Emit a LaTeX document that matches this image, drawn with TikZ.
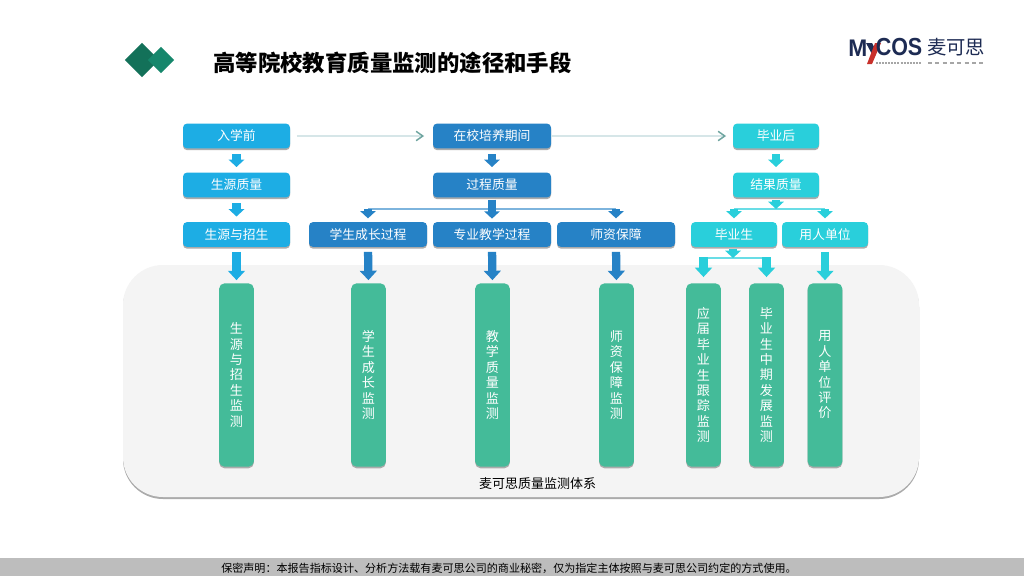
\documentclass[tikz,border=0pt]{standalone}
\usepackage{graphicx}
\usepackage{fontspec}
\setmainfont{Noto Sans CJK SC}
\newfontfamily\logofont{Liberation Sans}
\usetikzlibrary{arrows.meta,shadows,calc}
\definecolor{lblue}{HTML}{1DADE4}
\definecolor{mblue}{HTML}{2682C6}
\definecolor{cyanb}{HTML}{29CFDB}
\definecolor{greenb}{HTML}{44BB99}
\definecolor{panelc}{HTML}{F4F4F4}
\definecolor{shadowc}{HTML}{ABABAB}
\definecolor{footc}{HTML}{BDBDBD}
\definecolor{flowl}{HTML}{D6E6E8}
\definecolor{flowt}{HTML}{6FA5A0}
\definecolor{navy}{HTML}{1D2B53}
\definecolor{logored}{HTML}{C8302B}
\definecolor{dia}{HTML}{137159}
\definecolor{dib}{HTML}{16876C}
\tikzset{
  x=0.75pt,y=-0.75pt,
  stagebox/.style={rounded corners=3pt,inner sep=0pt,text=white,
    font=\fontsize{9.6pt}{11pt}\selectfont,minimum height=18.6pt,
    general shadow={shadow yshift=-1.3pt,fill=shadowc}},
  monbox/.style={rounded corners=4pt,inner sep=0pt,text=white,fill=greenb,
    minimum width=26pt,minimum height=137.5pt,align=center,
    font=\fontsize{9.8pt}{11.55pt}\selectfont,
    general shadow={shadow yshift=-1.2pt,fill=shadowc}},
  blockarrow/.style={line width=6.2pt,-{Triangle[length=7pt,width=12.5pt]}},
  smallarrow/.style={line width=6.2pt,-{Triangle[length=5.5pt,width=11.5pt]}},
  busline/.style={line width=1.5pt},
  flowarrow/.style={line width=1.3pt,color=flowl,
    -{Straight Barb[length=5pt,width=7pt,line width=1.1pt,color=flowt]}},
}
\begin{document}
\begin{tikzpicture}
\useasboundingbox (0,0) rectangle (1024,576);
\fill[white] (0,0) rectangle (1024,576);
% header
\node[fill=dia,minimum size=18.2pt,rotate=45,inner sep=0pt] (diaA) at (142,60) {};
\node[fill=dib,minimum size=13.8pt,rotate=45,inner sep=0pt] (diaB) at (161,60) {};
\node[anchor=west,inner sep=0pt,font=\bfseries\fontsize{16.8pt}{20pt}\selectfont] (title) at (213,63) {高等院校教育质量监测的途径和手段};
% logo
\node[anchor=west,inner sep=0pt,text=navy,font=\logofont\bfseries\fontsize{18pt}{18pt}\selectfont] (logoM) at (848,48) {\scalebox{0.95}[1]{M}};
\fill[navy] (866,43) -- (872,43) -- (876,51) -- (873,56) -- cycle;
\fill[logored] (875,43) -- (881,43) -- (872,64) -- (867,64) -- cycle;
\node[anchor=west,inner sep=0pt,text=navy,font=\logofont\bfseries\fontsize{18.5pt}{18.5pt}\selectfont] (logoC) at (875.5,47.5) {\scalebox{0.87}[1]{COS}};
\node[anchor=west,inner sep=0pt,text=navy,font=\fontsize{14.5pt}{15pt}\selectfont] (logoZ) at (927,47) {麦可思};
\draw[gray!70,line width=1.2pt,dash pattern=on 1.5pt off 0.8pt] (876,63) -- (921,63);
\draw[gray!70,line width=1.2pt,dash pattern=on 3pt off 2.5pt] (928,63) -- (983,63);
% panel
\node[fill=panelc,minimum width=597pt,minimum height=174pt,rounded corners=30pt,inner sep=0pt,
  general shadow={shadow yshift=-1.5pt,fill=shadowc}] (panel) at (521,381) {};
\node[inner sep=0pt,font=\fontsize{9.75pt}{11pt}\selectfont] (panelt) at (537.5,484) {麦可思质量监测体系};
% stage boxes
\node[stagebox,fill=lblue,minimum width=80.25pt] (a1) at (236.5,136) {入学前};
\node[stagebox,fill=lblue,minimum width=80.25pt] (a2) at (236.5,185) {生源质量};
\node[stagebox,fill=lblue,minimum width=80.25pt] (a3) at (236.5,234.5) {生源与招生};
\node[stagebox,fill=mblue,minimum width=88.5pt] (b1) at (492,136) {在校培养期间};
\node[stagebox,fill=mblue,minimum width=88.5pt] (b2) at (492,185) {过程质量};
\node[stagebox,fill=mblue,minimum width=88.5pt] (b3) at (368,234.5) {学生成长过程};
\node[stagebox,fill=mblue,minimum width=88.5pt] (b4) at (492,234.5) {专业教学过程};
\node[stagebox,fill=mblue,minimum width=88.5pt] (b5) at (616,234.5) {师资保障};
\node[stagebox,fill=cyanb,minimum width=64.5pt] (c1) at (776,136) {毕业后};
\node[stagebox,fill=cyanb,minimum width=64.5pt] (c2) at (776,185) {结果质量};
\node[stagebox,fill=cyanb,minimum width=64.5pt] (c3) at (734,234.5) {毕业生};
\node[stagebox,fill=cyanb,minimum width=64.5pt] (c4) at (825,234.5) {用人单位};
% monitoring boxes
\node[monbox] (m1) at (236.5,375) {生\\源\\与\\招\\生\\监\\测};
\node[monbox] (m2) at (368.5,375) {学\\生\\成\\长\\监\\测};
\node[monbox] (m3) at (492.5,375) {教\\学\\质\\量\\监\\测};
\node[monbox] (m4) at (616.5,375) {师\\资\\保\\障\\监\\测};
\node[monbox] (m5) at (703.5,375) {应\\届\\毕\\业\\生\\跟\\踪\\监\\测};
\node[monbox] (m6) at (766.5,375) {毕\\业\\生\\中\\期\\发\\展\\监\\测};
\node[monbox] (m7) at (825,375) {用\\人\\单\\位\\评\\价};
% flow
\draw[flowarrow,shorten <=5pt,shorten >=6.5pt] (a1.east) -- (b1.west);
\draw[flowarrow,shorten >=5pt] (b1.east) -- (c1.west);
% left column
\draw[smallarrow,lblue,shorten <=4.2pt,shorten >=4pt] (a1.south) -- (a2.north);
\draw[smallarrow,lblue,shorten <=4.2pt,shorten >=4pt] (a2.south) -- (a3.north);
\draw[blockarrow,lblue,shorten <=3.5pt,shorten >=2.2pt] (a3.south) -- (m1.north);
% middle column
\draw[smallarrow,mblue,shorten <=4.2pt,shorten >=4pt] (b1.south) -- (b2.north);
\coordinate (jbl) at (368,209);
\coordinate (jbr) at (616,209);
\draw[busline,mblue!60] (jbl) -- (jbr);
\draw[smallarrow,mblue,shorten <=1.5pt,shorten >=2.4pt] (b2.south) -- (b4.north);
\draw[smallarrow,mblue,shorten >=2.6pt] (jbl) -- (b3.north);
\draw[smallarrow,mblue,shorten >=2.6pt] (jbr) -- (b5.north);
\draw[blockarrow,mblue,shorten <=3.5pt,shorten >=2.2pt] (b3.south) -- (m2.north);
\draw[blockarrow,mblue,shorten <=3.5pt,shorten >=2.2pt] (b4.south) -- (m3.north);
\draw[blockarrow,mblue,shorten <=3.5pt,shorten >=2.2pt] (b5.south) -- (m4.north);
% right column
\draw[smallarrow,cyanb,shorten <=4.2pt,shorten >=4pt] (c1.south) -- (c2.north);
\coordinate (jct) at (776,209);
\coordinate (jcl) at (734,209);
\coordinate (jcr) at (825,209);
\draw[busline,cyanb!70] (jcl) -- (jcr);
\draw[smallarrow,cyanb,shorten <=2pt] (c2.south) -- (jct);
\draw[smallarrow,cyanb,shorten >=2.6pt] (jcl) -- (c3.north);
\draw[smallarrow,cyanb,shorten >=2.6pt] (jcr) -- (c4.north);
\coordinate (jdt) at (733,258);
\coordinate (jdl) at (703.5,258);
\coordinate (jdr) at (766.5,258);
\draw[busline,cyanb!70] (jdl) -- (jdr);
\draw[smallarrow,cyanb,shorten <=1pt] (c3.south -| jdt) -- (jdt);
\draw[blockarrow,cyanb,shorten >=4.5pt] ([yshift=0.6pt]jdl) -- (m5.north);
\draw[blockarrow,cyanb,shorten >=4.5pt] ([yshift=0.6pt]jdr) -- (m6.north);
\draw[blockarrow,cyanb,shorten <=3.5pt,shorten >=2.2pt] (c4.south) -- (m7.north);
% footer
\fill[footc] (0,558) rectangle (1024,576);
\node[inner sep=0pt,font=\fontsize{8.3pt}{10pt}\selectfont] (foot) at (509,568) {保密声明：本报告指标设计、分析方法载有麦可思公司的商业秘密，仅为指定主体按照与麦可思公司约定的方式使用。};
\end{tikzpicture}
\end{document}
